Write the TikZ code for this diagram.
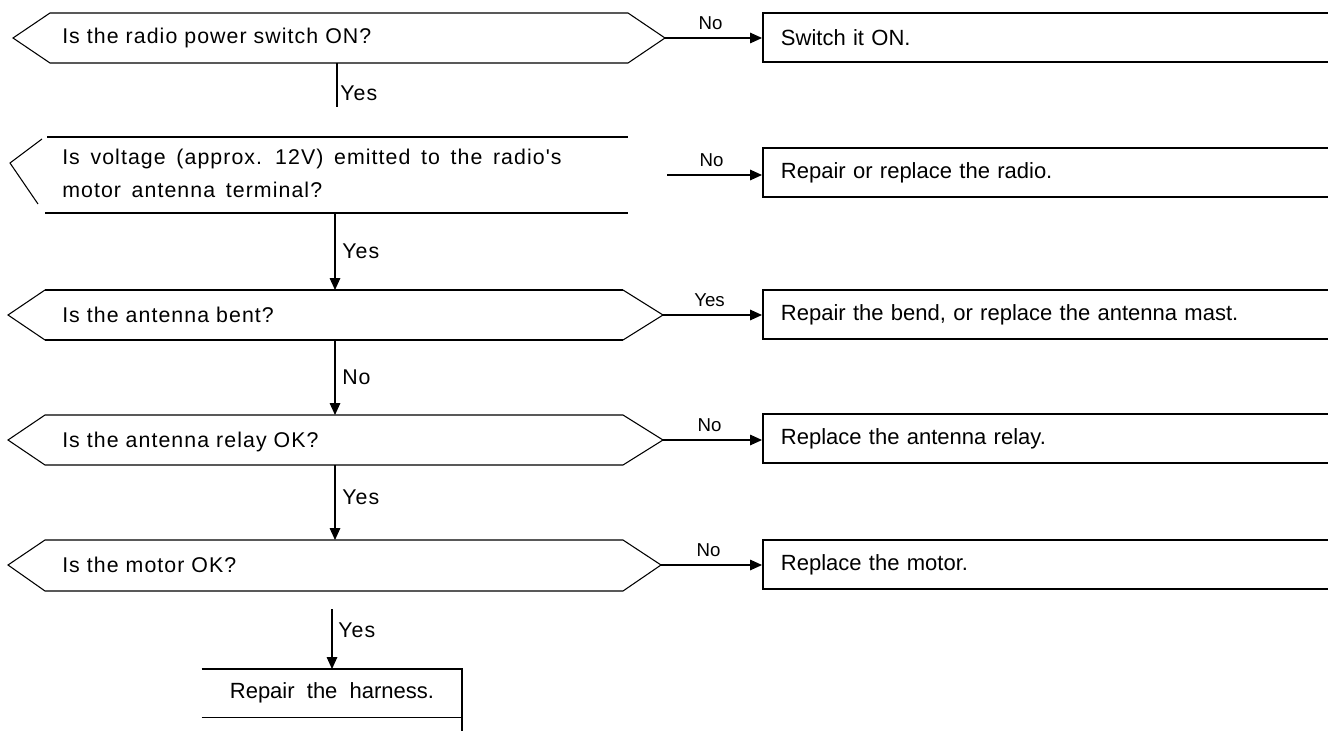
\documentclass[tikz,border=0pt]{standalone}
\usepackage{fontspec}
\setmainfont{Liberation Sans}
\newfontfamily\askfont[LetterSpace=5]{Liberation Sans}
\newfontfamily\dofont[WordSpace=2]{Liberation Sans}
\usetikzlibrary{arrows.meta}

\tikzset{
  ask/.style={inner sep=0pt, font=\askfont\fontsize{16}{24.75}\selectfont, align=left},
  fix/.style={draw, line width=1.4pt, anchor=north west, minimum height=36.75pt,
    text width=450pt, inner xsep=13.5pt, inner ysep=0pt, align=left,
    font=\dofont\fontsize{16.5}{18}\selectfont},
  tag/.style={inner sep=0pt, font=\fontsize{14}{16}\selectfont},
  conn/.style={line width=0.8pt, -{Triangle[length=9pt,width=8pt]}},
}

\begin{document}
\begin{tikzpicture}[x=0.75pt,y=0.75pt,yscale=-1,xscale=1]
\useasboundingbox (0,0) rectangle (1328,731);
\clip (0,0) rectangle (1328,731);

%Shape: Hexagon [power switch]
\draw [line width=0.8pt] (50,13) -- (628,13) -- (665,38) -- (628,63) -- (50,63) -- (13,38) -- cycle ;
%Shape: Hexagon [voltage], open on the right
\draw [line width=1.4pt] (47,137) -- (628,137) ;
\draw [line width=1.4pt] (45,213) -- (628,213) ;
\draw [line width=0.8pt] (42,139) -- (10,163) -- (38,204) ;
%Shape: Hexagon [bent]
\draw [line width=1.4pt] (45,290) -- (623,290) ;
\draw [line width=1.4pt] (45,340) -- (623,340) ;
\draw [line width=0.8pt] (45,290) -- (8,315) -- (45,340) (623,290) -- (663,315) -- (623,340) ;
%Shape: Hexagon [relay]
\draw [line width=0.8pt] (45,415) -- (623,415) -- (663,440) -- (623,465) -- (45,465) -- (8,440) -- cycle ;
%Shape: Hexagon [motor]
\draw [line width=0.8pt] (45,540) -- (623,540) -- (661,565) -- (623,591) -- (45,591) -- (8,565) -- cycle ;

% tips and ends of the connectors
\coordinate (q1r) at (665,38);
\coordinate (q1s) at (337,63);
\coordinate (q1e) at (337,107);
\coordinate (q2r) at (667,175);
\coordinate (q2s) at (335,214);
\coordinate (q3n) at (335,290);
\coordinate (q3r) at (663,315);
\coordinate (q3s) at (335,340);
\coordinate (q4n) at (335,415);
\coordinate (q4r) at (663,440);
\coordinate (q4s) at (335,465);
\coordinate (q5n) at (335,540);
\coordinate (q5r) at (661,565);
\coordinate (q5s) at (332,609);

% Text Node
\draw (62,44) node [anchor=base west][ask] (q1) {Is the radio power switch ON?};
% Text Node
\draw (62,198) node [anchor=base west][ask] (q2) {\spaceskip=8pt\relax Is voltage (approx. 12V) emitted to the radio's\\\spaceskip=8pt\relax motor antenna terminal?};
% Text Node
\draw (62,322) node [anchor=base west][ask] (q3) {Is the antenna bent?};
% Text Node
\draw (62,447) node [anchor=base west][ask] (q4) {Is the antenna relay OK?};
% Text Node
\draw (62,572) node [anchor=base west][ask] (q5) {Is the motor OK?};

% Action boxes
\node [fix] (b1) at (762,12) {Switch it ON.};
\node [fix] (b2) at (762,147) {Repair or replace the radio.};
\node [fix] (b3) at (762,289) {Repair the bend, or replace the antenna mast.};
\node [fix] (b4) at (762,413) {Replace the antenna relay.};
\node [fix] (b5) at (762,539) {Replace the motor.};

% Repair the harness: open on the left
\node [minimum width=195pt, minimum height=36pt, anchor=north, inner sep=0pt,
  font=\dofont\fontsize{16.5}{18}\selectfont] (h) at (332,669) {Repair the harness.};
\draw [line width=1.4pt] (h.north west) -- (h.north east) -- ++(0,70) ;
\draw [line width=1.4pt] (h.south west) -- (h.south east) ;

% No / Yes to the right
\draw [conn] (q1r) -- (q1r -| b1.west) node [tag, pos=0.47, above=6pt] (n1) {No};
\draw [conn] (q2r) -- (q2r -| b2.west) node [tag, pos=0.47, above=6pt] (n2) {No};
\draw [conn] (q3r) -- (q3r -| b3.west) node [tag, pos=0.47, above=6pt] (y3) {Yes};
\draw [conn] (q4r) -- (q4r -| b4.west) node [tag, pos=0.47, above=6pt] (n4) {No};
\draw [conn] (q5r) -- (q5r -| b5.west) node [tag, pos=0.47, above=6pt] (n5) {No};

% Yes / No downwards
\draw [line width=0.8pt] (q1s) -- (q1e) ;
\draw (340,101) node [anchor=base west][ask] (y1) {Yes};
\draw [conn] (q2s) -- (q3n) ;
\draw (342,258) node [anchor=base west][ask] (y2) {Yes};
\draw [conn] (q3s) -- (q4n) ;
\draw (342,384) node [anchor=base west][ask] (n3) {No};
\draw [conn] (q4s) -- (q5n) ;
\draw (342,504) node [anchor=base west][ask] (y4) {Yes};
\draw [conn] (q5s) -- (h.north) ;
\draw (338,637) node [anchor=base west][ask] (y5) {Yes};

\end{tikzpicture}
\end{document}
